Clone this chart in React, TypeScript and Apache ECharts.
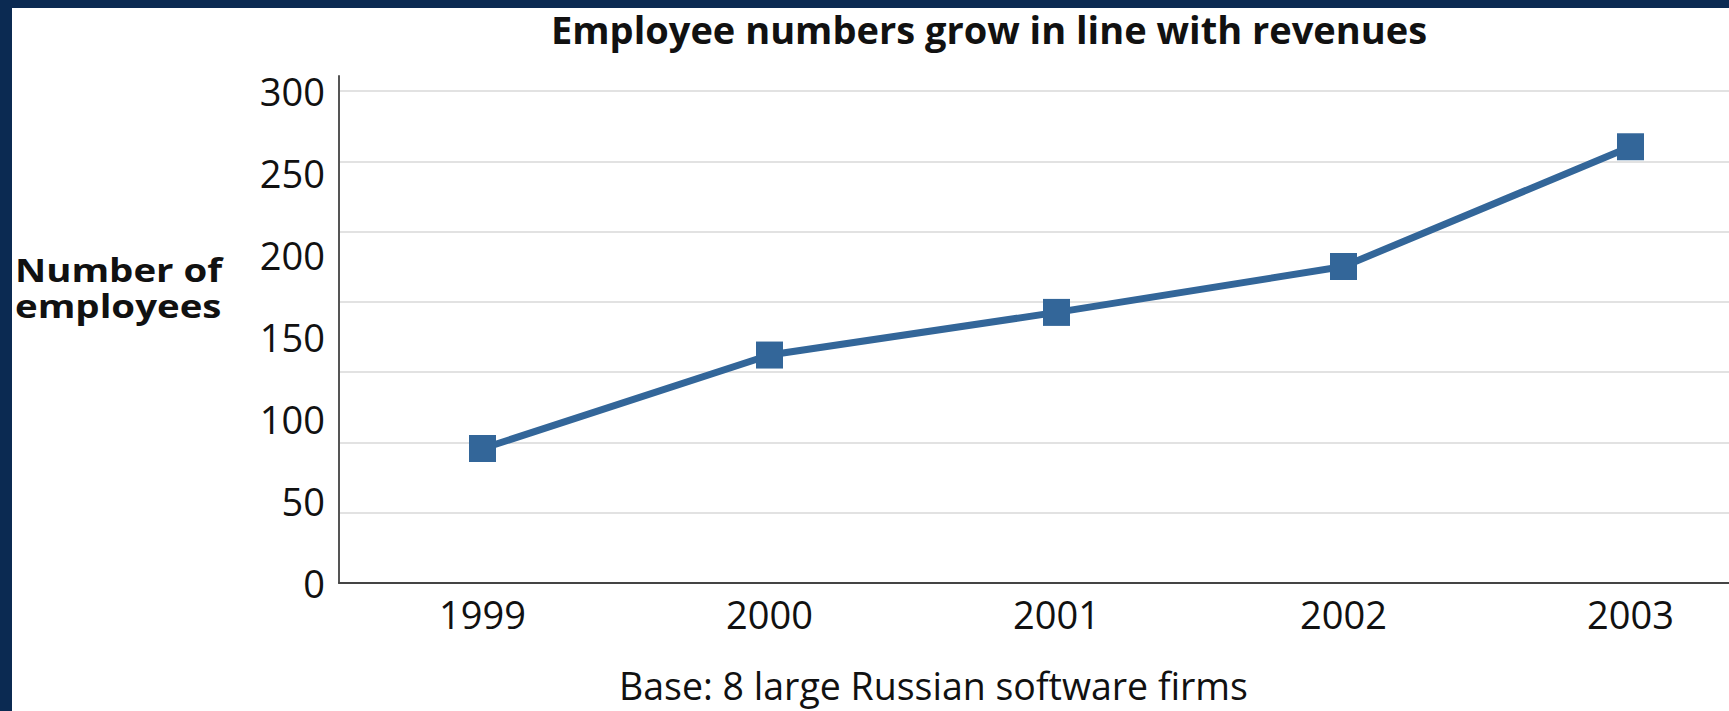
import React, { useEffect, useRef } from "react";
import * as echarts from "echarts";

const years = ["1999", "2000", "2001", "2002", "2003"];
const employees = [82, 139, 165, 193, 266];
const chartTitle = "Employee numbers grow in line with revenues";
const yTitle = "Number of\nemployees";
const baseNote = "Base: 8 large Russian software firms";

const FONT = "'Open Sans', 'Noto Sans', sans-serif";

export default function App() {
  const ref = useRef<HTMLDivElement>(null);
  useEffect(() => {
    if (!ref.current) return;
    const chart = echarts.init(ref.current, undefined, { renderer: "svg" });
    chart.setOption({
      animation: false,
      backgroundColor: "#0b2a52",
      textStyle: { fontFamily: FONT },
      title: [
        {
          text: chartTitle,
          left: 546,
          top: 5,
          textStyle: { fontFamily: FONT, fontWeight: "bold", fontSize: 38, color: "#111" },
        },
        {
          text: baseNote,
          left: 619,
          top: 665,
          padding: 0,
          textStyle: {
            fontFamily: FONT,
            fontWeight: "normal",
            fontSize: 37.5,
            lineHeight: 40,
            color: "#111",
          },
        },
      ],
      graphic: [
        {
          type: "rect",
          z: -100,
          shape: { x: 12, y: 8, width: 1800, height: 703 },
          style: { fill: "#ffffff" },
        },
        {
          type: "text",
          x: 15,
          y: 251,
          scaleX: 1.2,
          style: {
            text: yTitle,
            fontFamily: FONT,
            fontWeight: "bold",
            fontSize: 32,
            lineHeight: 36,
            fill: "#111",
          },
        },
      ],
      grid: { left: 339, top: 76, width: 1435, height: 507, containLabel: false },
      xAxis: {
        type: "category",
        data: years,
        boundaryGap: true,
        axisLine: { show: true, lineStyle: { color: "#444", width: 2 } },
        axisTick: { show: false },
        splitLine: { show: false },
        axisLabel: { fontFamily: FONT, fontSize: 38, color: "#111", margin: 12 },
      },
      yAxis: [
        {
          type: "value",
          min: 0,
          max: 360.67,
          interval: 50,
          position: "left",
          axisLine: { show: true, lineStyle: { color: "#555", width: 2 } },
          axisTick: { show: false },
          axisLabel: { show: false },
          splitLine: { show: true, showMaxLine: false, lineStyle: { color: "#e2e2e2", width: 2 } },
        },
        {
          type: "value",
          min: 0,
          max: 309.15,
          interval: 50,
          position: "left",
          offset: 0,
          axisLine: { show: false },
          axisTick: { show: false },
          splitLine: { show: false },
          axisLabel: {
            fontFamily: FONT,
            fontSize: 38,
            color: "#111",
            margin: 14,
            showMaxLabel: false,
          },
        },
      ],
      series: [
        {
          type: "line",
          yAxisIndex: 1,
          data: employees,
          symbol: "rect",
          symbolSize: 27,
          itemStyle: { color: "#336699" },
          lineStyle: { color: "#336699", width: 7 },
        },
      ],
    });
    return () => chart.dispose();
  }, []);
  return (
    <div
      ref={ref}
      style={{ position: "fixed", left: 0, top: 0, width: 1780, height: 711 }}
    />
  );
}
